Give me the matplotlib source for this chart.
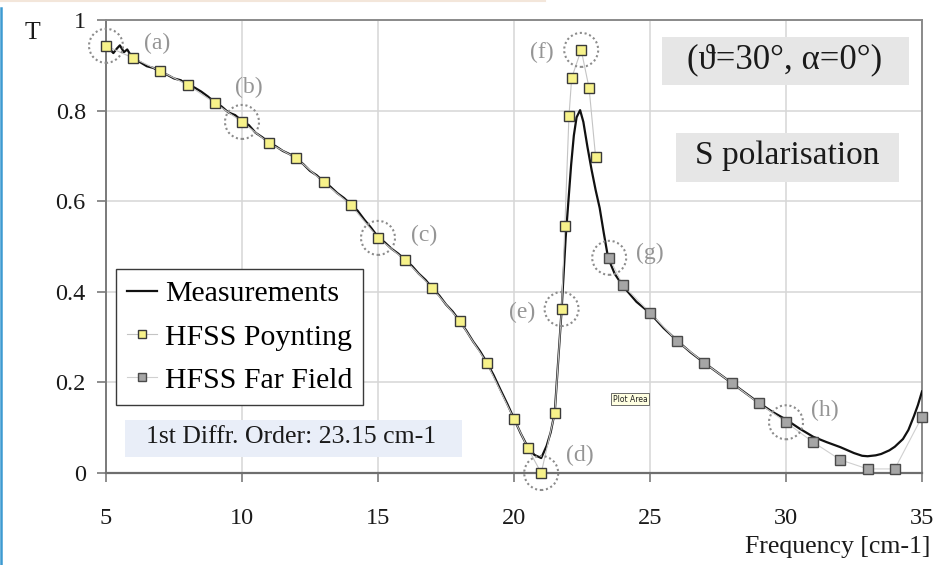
import matplotlib
matplotlib.use('Agg')
import matplotlib.pyplot as plt
from matplotlib.patches import Ellipse, Rectangle
from matplotlib.lines import Line2D
from matplotlib.font_manager import FontProperties

# ---------------- data ----------------
meas_x = [5.0, 5.15, 5.27, 5.4, 5.51, 5.66, 5.78, 5.97, 6.25, 6.5, 6.75, 7.0, 7.25, 7.5, 7.75,
          8.0, 8.25, 8.5, 8.75, 9.0, 9.25, 9.5, 9.75, 10.0, 10.25, 10.5, 10.75, 11.0, 11.25,
          11.5, 11.75, 12.0, 12.25, 12.5, 12.75, 13.0, 13.25, 13.5, 13.75, 14.0, 14.25, 14.5,
          14.75, 15.0, 15.25, 15.5, 15.75, 16.0, 16.25, 16.5, 16.75, 17.0, 17.25, 17.5, 17.75,
          18.0, 18.25, 18.5, 18.75, 19.0, 19.25, 19.5, 19.75, 20.0, 20.25, 20.5, 20.75, 21.0,
          21.2, 21.35, 21.5, 21.6, 21.75, 21.9, 22.0, 22.1, 22.2, 22.3, 22.43, 22.55, 22.7,
          22.85, 23.0, 23.15, 23.3, 23.46, 23.7, 24.0, 24.5, 25.0, 25.5, 26.0, 26.5, 27.0, 27.5,
          28.0, 28.5, 29.0, 29.5, 30.0, 30.5, 31.0, 31.5, 32.0, 32.5, 32.8, 33.0, 33.3, 33.5,
          33.8, 34.0, 34.3, 34.5, 34.7, 34.85, 35.0]
meas_t = [0.941, 0.935, 0.927, 0.937, 0.944, 0.929, 0.935, 0.916, 0.907, 0.898, 0.894, 0.885,
          0.879, 0.871, 0.867, 0.857, 0.851, 0.842, 0.831, 0.818, 0.809, 0.796, 0.790, 0.777,
          0.768, 0.751, 0.741, 0.729, 0.721, 0.711, 0.704, 0.694, 0.682, 0.667, 0.657, 0.643,
          0.632, 0.618, 0.607, 0.593, 0.579, 0.559, 0.541, 0.521, 0.509, 0.495, 0.484, 0.470,
          0.457, 0.440, 0.426, 0.408, 0.392, 0.372, 0.356, 0.336, 0.314, 0.290, 0.269, 0.244,
          0.216, 0.184, 0.153, 0.120, 0.087, 0.058, 0.040, 0.033, 0.060, 0.090, 0.135, 0.225,
          0.360, 0.520, 0.600, 0.680, 0.745, 0.785, 0.801, 0.775, 0.720, 0.670, 0.625, 0.585,
          0.530, 0.475, 0.440, 0.413, 0.378, 0.353, 0.320, 0.292, 0.266, 0.243, 0.221, 0.199,
          0.177, 0.155, 0.135, 0.118, 0.098, 0.080, 0.068, 0.057, 0.044, 0.038, 0.037, 0.039,
          0.042, 0.050, 0.058, 0.075, 0.095, 0.125, 0.150, 0.180]

poy_x = [5, 6, 7, 8, 9, 10, 11, 12, 13, 14, 15, 16, 17, 18, 19, 20, 20.5, 21, 21.5, 21.75,
         21.87, 22.02, 22.12, 22.47, 22.76, 23.0]
poy_t = [0.943, 0.916, 0.887, 0.857, 0.817, 0.775, 0.728, 0.695, 0.642, 0.592, 0.519, 0.470,
         0.408, 0.336, 0.243, 0.119, 0.056, 0.0, 0.132, 0.362, 0.545, 0.787, 0.872, 0.934,
         0.850, 0.698]

ff_x = [23.5, 24, 25, 26, 27, 28, 29, 30, 31, 32, 33, 34, 35]
ff_t = [0.475, 0.415, 0.354, 0.291, 0.243, 0.199, 0.154, 0.112, 0.068, 0.029, 0.009, 0.009,
        0.124]

x_ticks = [5, 10, 15, 20, 25, 30, 35]
y_ticks = [0, 0.2, 0.4, 0.6, 0.8, 1]
y_tick_labels = ['0', '0.2', '0.4', '0.6', '0.8', '1']

series_names = ['Measurements', 'HFSS Poynting', 'HFSS Far Field']

ann_labels = ['(a)', '(b)', '(c)', '(d)', '(e)', '(f)', '(g)', '(h)']
ann_series = ['P', 'P', 'P', 'P', 'P', 'P', 'F', 'F']
ann_index = [0, 5, 10, 17, 19, 23, 0, 7]

angle_text = '(\u03d1=30°, \u03b1=0°)'
pol_text = 'S polarisation'
diffr_text = '1st Diffr. Order: 23.15 cm-1'
xlabel_text = 'Frequency [cm-1]'
ylabel_text = 'T'

# ---------------- layout / style ----------------
W, H = 941, 565
SERIF = ['Liberation Serif', 'DejaVu Serif']
fig = plt.figure(figsize=(W / 100, H / 100), dpi=100)
fig.patch.set_facecolor('white')
ax_l, ax_r, ax_b, ax_t = 106, 922, 473, 20
ax = fig.add_axes([ax_l / W, 1 - ax_b / H, (ax_r - ax_l) / W, (ax_b - ax_t) / H])

ax.set_xlim(5, 35)
ax.set_ylim(0, 1)
ax.set_xticks(x_ticks)
ax.set_xticklabels([str(v) for v in x_ticks])
ax.set_yticks(y_ticks)
ax.set_yticklabels(y_tick_labels)
for lab in ax.get_xticklabels() + ax.get_yticklabels():
    lab.set_fontfamily(SERIF)
    lab.set_fontsize(17.5)
    lab.set_color('#1a1a1a')
ax.tick_params(axis='x', direction='out', length=6.5, width=1.2, color='#7a7a7a', pad=19)
ax.tick_params(axis='y', direction='out', length=6.5, width=1.2, color='#7a7a7a', pad=8)

ax.grid(True, color='#d6d6d6', lw=1.1)
ax.set_axisbelow(True)
for name, sp in ax.spines.items():
    sp.set_color('#8a8a8a')
    sp.set_linewidth(1.4)
ax.spines['bottom'].set_color('#6e6e6e')
ax.spines['bottom'].set_linewidth(1.6)
ax.spines['left'].set_color('#7a7a7a')

# lines / markers
ax.plot(meas_x, meas_t, color='#111111', lw=1.6, zorder=3, label=series_names[0])
ax.plot(poy_x, poy_t, color='#c4c4c4', lw=0.8, marker='s', ms=7.5, mfc='#f7f28a',
        mec='#3a3a3a', mew=1.0, clip_on=False, zorder=4, label=series_names[1])
ax.plot(ff_x, ff_t, color='#d0d0d0', lw=0.8, marker='s', ms=7.5, mfc='#a6a6a6',
        mec='#4a4a4a', mew=1.0, clip_on=False, zorder=4, label=series_names[2])

# annotation circles and labels
circ_w = 34 / 27.2
circ_h = 34 / 453
label_offsets = [(51, 2), (7, 34), (46, 2), (39, 18), (-39, -3), (-39, -3), (41, 4), (39, 12)]
for lab, s, i, off in zip(ann_labels, ann_series, ann_index, label_offsets):
    xs, ys = (poy_x, poy_t) if s == 'P' else (ff_x, ff_t)
    cx, cy = xs[i], ys[i]
    ax.add_patch(Ellipse((cx, cy), circ_w, circ_h, fill=False, edgecolor='#8c8c8c',
                         lw=1.5, linestyle=(0, (1, 1.3)), clip_on=False, zorder=5))
    ax.annotate(lab, xy=(cx, cy), xytext=off, textcoords='offset pixels', ha='center',
                va='center', fontsize=17, color='#959595', family=SERIF, zorder=5,
                annotation_clip=False)

# boxes with text
def px2ax(px, py):
    return (px - ax_l) / (ax_r - ax_l), (ax_b - py) / (ax_b - ax_t)

def textbox(x0p, y0p, x1p, y1p, cxp, cyp, txt, size, fc):
    x0, y1 = px2ax(x0p, y0p)
    x1, y0 = px2ax(x1p, y1p)
    ax.add_patch(Rectangle((x0, y0), x1 - x0, y1 - y0, transform=ax.transAxes,
                           facecolor=fc, edgecolor='none', zorder=2))
    tx, ty = px2ax(cxp, cyp)
    ax.text(tx, ty, txt, transform=ax.transAxes, ha='center', va='center', fontsize=size,
            family=SERIF, color='#1a1a1a', zorder=2.5)

textbox(662, 37, 909, 85, 785, 60, angle_text, 25, '#e6e6e6')
textbox(676, 133, 899, 182, 787, 156, pol_text, 24, '#e6e6e6')
textbox(125, 420, 462, 457, 291, 437, diffr_text, 18.5, '#e9eef8')

# "Plot Area" tooltip
tx, ty = px2ax(630, 399)
ax.text(tx, ty, 'Plot Area', transform=ax.transAxes, ha='center', va='center', fontsize=5.5,
        family=['DejaVu Sans'], color='#222222', zorder=6,
        bbox=dict(boxstyle='square,pad=0.25', fc='#ffffe1', ec='#555555', lw=0.6))

# legend
lx, ly = px2ax(116, 269)
leg = ax.legend(loc='upper left', bbox_to_anchor=(lx, ly), borderaxespad=0, frameon=True,
                fancybox=False, edgecolor='#3a3a3a', framealpha=1,
                prop=FontProperties(family=SERIF, size=21.5), handlelength=1.0,
                handletextpad=0.25, labelspacing=0.55, borderpad=0.38, markerscale=0.7)
leg.get_frame().set_linewidth(1.0)
leg.set_zorder(6)

# axis labels
fig.text(930 / W, 1 - 547 / H, xlabel_text, ha='right', va='center', fontsize=18.5,
         family=SERIF, color='#1a1a1a')
fig.text(32.5 / W, 1 - 33 / H, ylabel_text, ha='center', va='center', fontsize=18.5,
         family=SERIF, color='#1a1a1a')

# page decorations
fig.add_artist(Line2D([1 / W, 1 / W], [0, 1 - 8 / H], color='#3d9ad1', lw=1.8))
fig.add_artist(Line2D([0, 545 / W], [1 - 1 / H, 1 - 1 / H], color='#f3e6da', lw=1.5))

fig.savefig('out.png', dpi=100, facecolor='white')
